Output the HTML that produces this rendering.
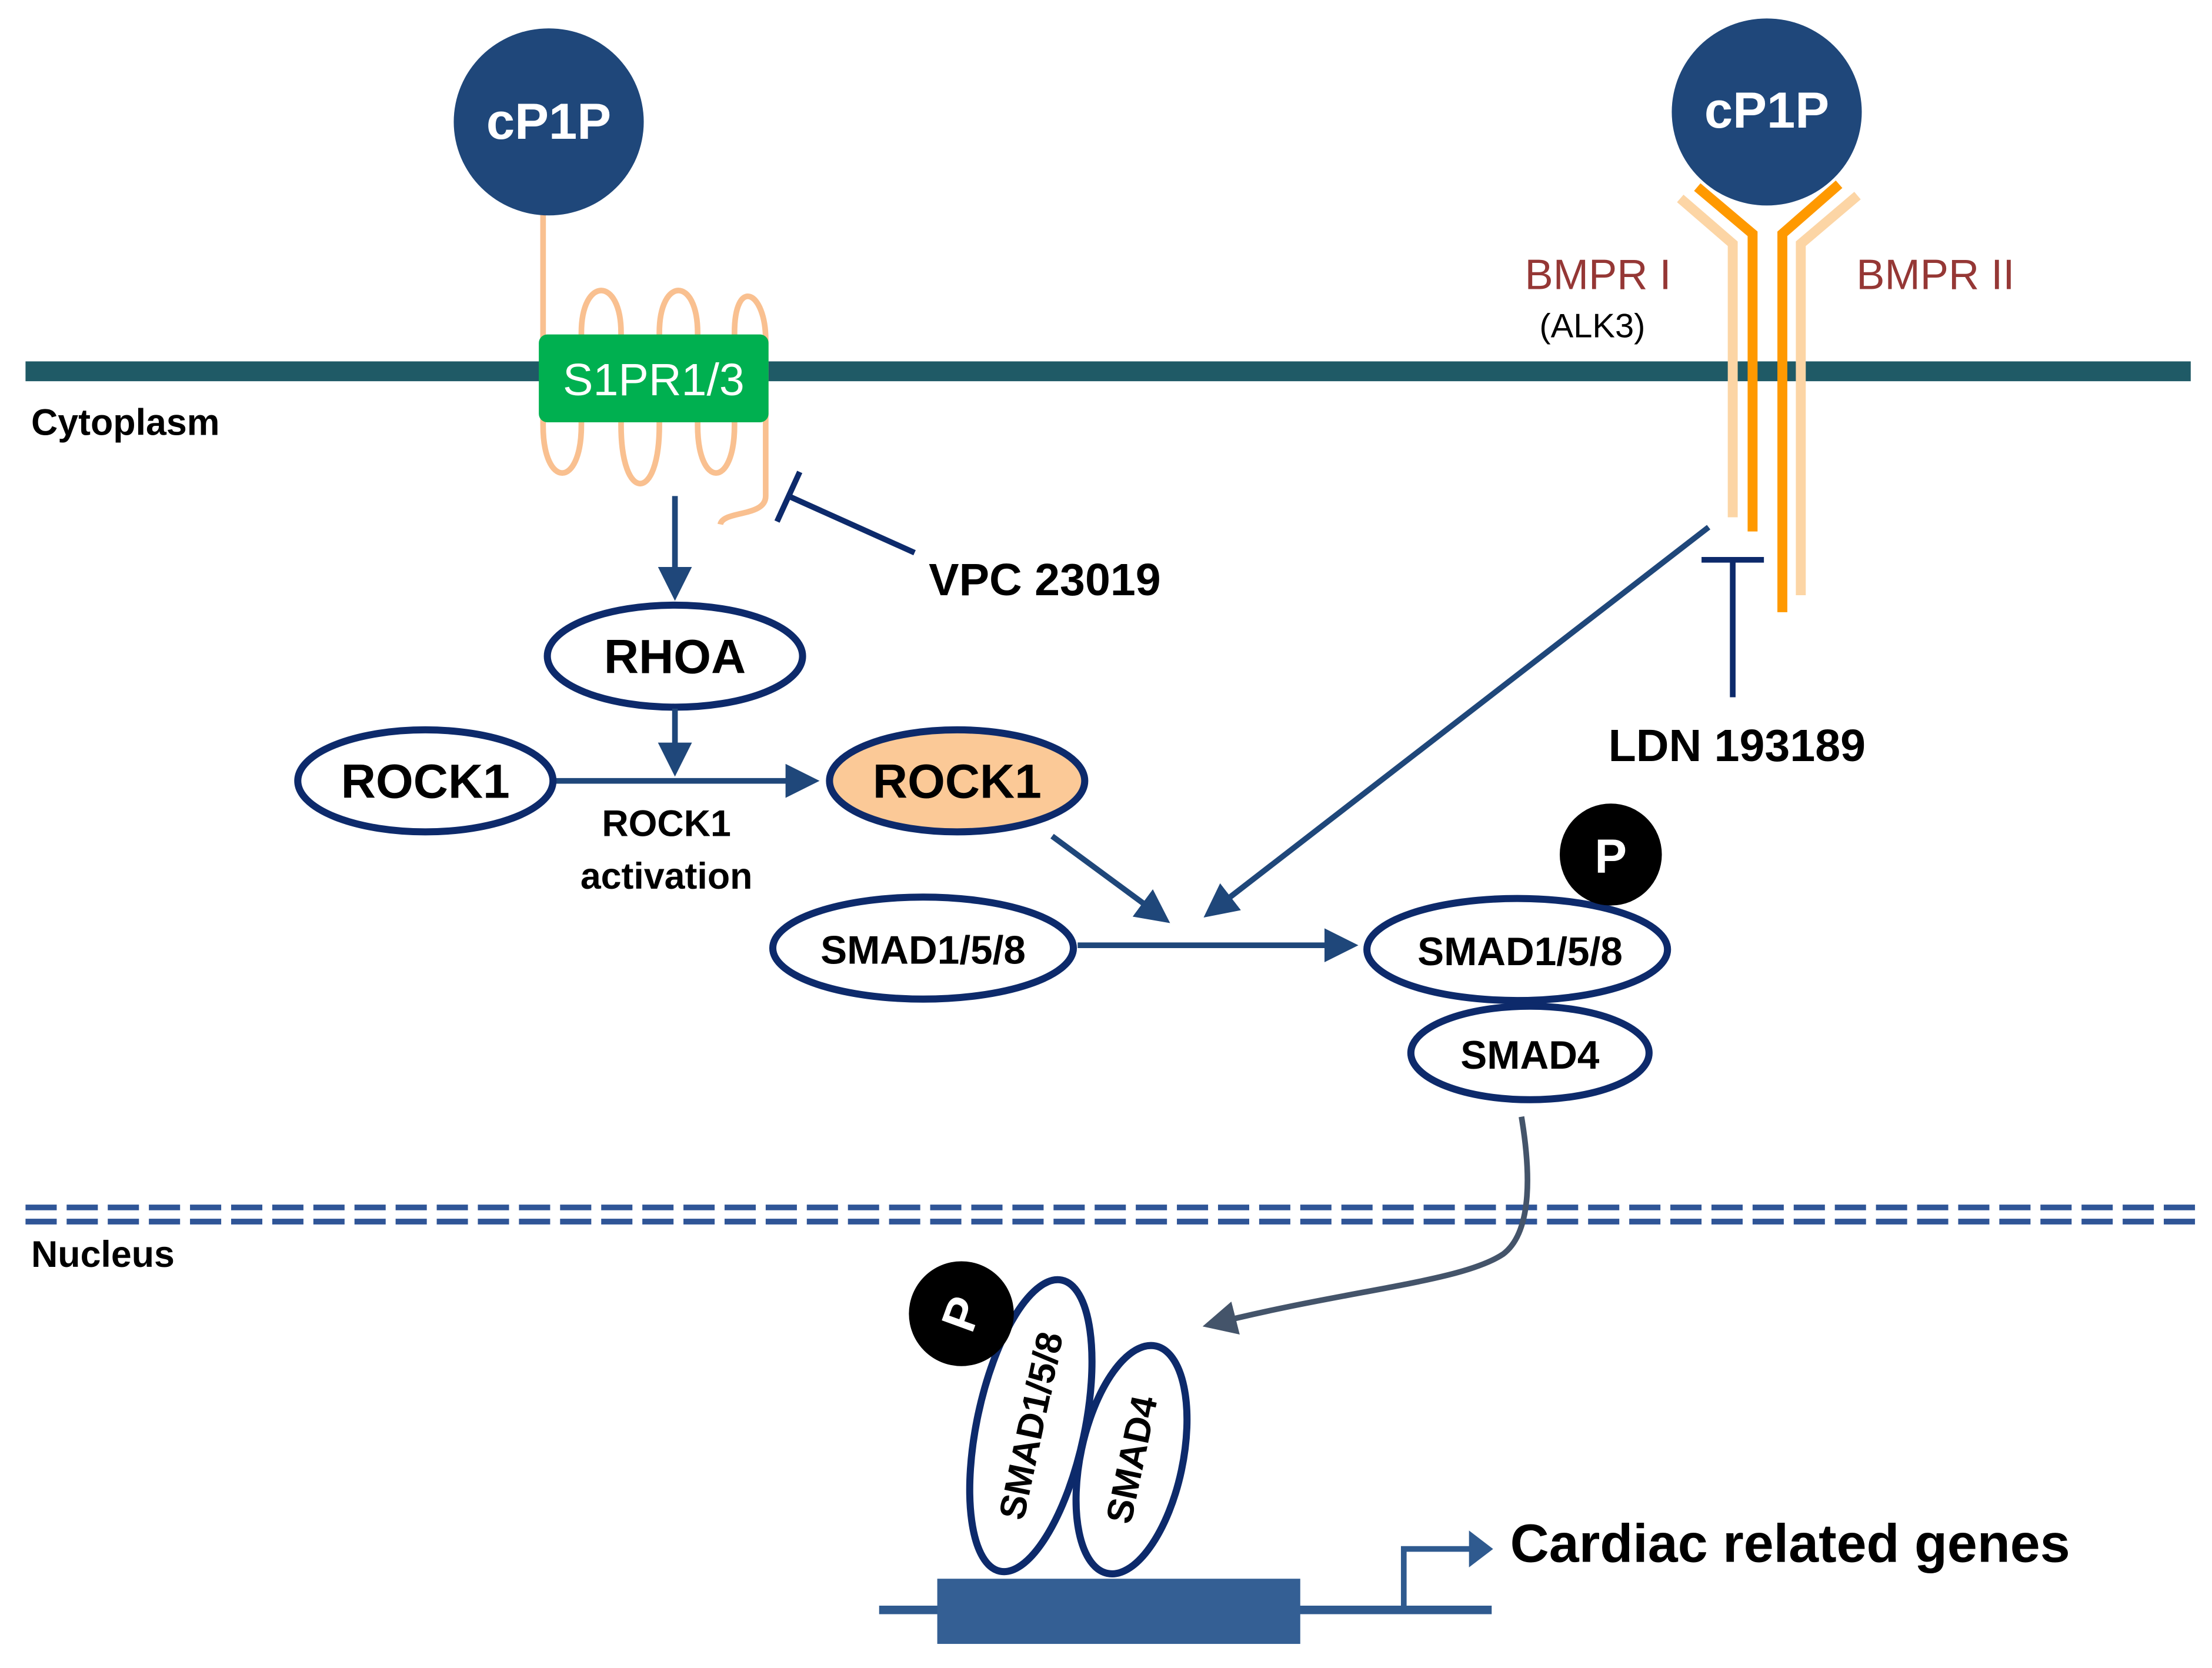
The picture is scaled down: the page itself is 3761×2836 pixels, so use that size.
<!DOCTYPE html>
<html><head><style>html,body{margin:0;padding:0;background:#fff}svg{display:block}</style></head>
<body>
<svg width="3761" height="2836" viewBox="0 0 1560 1177" preserveAspectRatio="none" xmlns="http://www.w3.org/2000/svg" font-family="Liberation Sans, sans-serif">
<defs>
<marker id="a" markerWidth="6" markerHeight="6" refX="5" refY="3" orient="auto" markerUnits="strokeWidth"><path d="M0,0 L6,3 L0,6 z" fill="#1f477a"/></marker>
<marker id="g" markerWidth="6" markerHeight="6" refX="5" refY="3" orient="auto" markerUnits="strokeWidth"><path d="M0,0 L6,3 L0,6 z" fill="#44546a"/></marker>
</defs>
<rect width="1560" height="1177" fill="#fff"/>
<!-- membrane -->
<rect x="18" y="255" width="1527" height="14" fill="#1f5a66"/>
<text x="22" y="307" font-size="26" font-weight="bold">Cytoplasm</text>
<!-- left receptor -->
<path d="M383,150 L383,300 C383,345 410,345 410,300 L410,235 C410,195 438,195 438,235 L438,300 C438,355 465,355 465,300 L465,235 C465,195 492,195 492,235 L492,300 C492,345 518,345 518,300 L518,235 C518,195 540,205 540,240 L540,350 C540,365 510,360 508,370" fill="none" stroke="#f9c090" stroke-width="4"/>
<ellipse cx="387" cy="86" rx="67" ry="66" fill="#1f477a"/>
<text x="387" y="98" font-size="36" font-weight="bold" fill="#fff" text-anchor="middle">cP1P</text>
<rect x="380" y="236" width="162" height="62" rx="6" fill="#00b050"/>
<text x="461" y="279" font-size="32" fill="#fff" text-anchor="middle">S1PR1/3</text>
<line x1="476" y1="350" x2="476" y2="420" stroke="#1f477a" stroke-width="4" marker-end="url(#a)"/>
<line x1="645" y1="390" x2="556" y2="350" stroke="#0d2a6b" stroke-width="4"/>
<line x1="548" y1="368" x2="564" y2="333" stroke="#0d2a6b" stroke-width="4"/>
<text x="655" y="420" font-size="32" font-weight="bold">VPC 23019</text>
<!-- RHOA/ROCK -->
<ellipse cx="476" cy="463" rx="90" ry="36" fill="#fff" stroke="#0d2a6b" stroke-width="5"/>
<text x="476" y="475" font-size="34" font-weight="bold" text-anchor="middle">RHOA</text>
<line x1="476" y1="500" x2="476" y2="544" stroke="#1f477a" stroke-width="4" marker-end="url(#a)"/>
<line x1="392" y1="551" x2="574" y2="551" stroke="#1f477a" stroke-width="4" marker-end="url(#a)"/>
<ellipse cx="300" cy="551" rx="90" ry="36" fill="#fff" stroke="#0d2a6b" stroke-width="5"/>
<text x="300" y="563" font-size="34" font-weight="bold" text-anchor="middle">ROCK1</text>
<ellipse cx="675" cy="551" rx="90" ry="36" fill="#fbc997" stroke="#0d2a6b" stroke-width="5"/>
<text x="675" y="563" font-size="34" font-weight="bold" text-anchor="middle">ROCK1</text>
<text x="470" y="590" font-size="26" font-weight="bold" text-anchor="middle">ROCK1</text>
<text x="470" y="627" font-size="26" font-weight="bold" text-anchor="middle">activation</text>
<line x1="742" y1="590" x2="822" y2="649" stroke="#1f477a" stroke-width="4" marker-end="url(#a)"/>
<line x1="1205" y1="372" x2="852" y2="645" stroke="#1f477a" stroke-width="4" marker-end="url(#a)"/>
<!-- BMPR -->
<path d="M1185,140 L1222,172 L1222,365" fill="none" stroke="#fcd5a5" stroke-width="7"/>
<path d="M1197,132 L1236,165 L1236,375" fill="none" stroke="#ff9900" stroke-width="7"/>
<path d="M1310,138 L1270,172 L1270,420" fill="none" stroke="#fcd5a5" stroke-width="7"/>
<path d="M1297,130 L1257,165 L1257,432" fill="none" stroke="#ff9900" stroke-width="7"/>
<ellipse cx="1246" cy="79" rx="67" ry="66" fill="#1f477a"/>
<text x="1246" y="90" font-size="36" font-weight="bold" fill="#fff" text-anchor="middle">cP1P</text>
<text x="1127" y="204" font-size="30" fill="#953735" text-anchor="middle">BMPR I</text>
<text x="1123" y="238" font-size="24" text-anchor="middle">(ALK3)</text>
<text x="1365" y="204" font-size="30" fill="#953735" text-anchor="middle">BMPR II</text>
<line x1="1222" y1="492" x2="1222" y2="395" stroke="#0d2a6b" stroke-width="4"/>
<line x1="1200" y1="395" x2="1244" y2="395" stroke="#0d2a6b" stroke-width="4"/>
<text x="1225" y="537" font-size="32" font-weight="bold" text-anchor="middle">LDN 193189</text>
<!-- SMADs -->
<ellipse cx="651" cy="669" rx="106" ry="36" fill="#fff" stroke="#0d2a6b" stroke-width="5"/>
<text x="651" y="680" font-size="28" font-weight="bold" text-anchor="middle">SMAD1/5/8</text>
<line x1="760" y1="667" x2="954" y2="667" stroke="#1f477a" stroke-width="4" marker-end="url(#a)"/>
<ellipse cx="1070" cy="670" rx="106" ry="36" fill="#fff" stroke="#0d2a6b" stroke-width="5"/>
<text x="1072" y="681" font-size="28" font-weight="bold" text-anchor="middle">SMAD1/5/8</text>
<circle cx="1136" cy="603" r="36" fill="#000"/>
<text x="1136" y="616" font-size="34" font-weight="bold" fill="#fff" text-anchor="middle">P</text>
<ellipse cx="1079" cy="743" rx="84" ry="33" fill="#fff" stroke="#0d2a6b" stroke-width="5"/>
<text x="1079" y="754" font-size="28" font-weight="bold" text-anchor="middle">SMAD4</text>
<!-- nucleus boundary -->
<line x1="18" y1="852" x2="1548" y2="852" stroke="#2f5597" stroke-width="4" stroke-dasharray="22,7"/>
<line x1="18" y1="862" x2="1548" y2="862" stroke="#2f5597" stroke-width="4" stroke-dasharray="22,7"/>
<text x="22" y="894" font-size="26" font-weight="bold">Nucleus</text>
<path d="M1073,788 C1080,830 1080,870 1060,885 C1030,905 950,910 852,935" fill="none" stroke="#44546a" stroke-width="4" marker-end="url(#g)"/>
<!-- tilted smads -->
<g transform="translate(727,1006) rotate(12)">
<ellipse cx="0" cy="0" rx="38" ry="105" fill="#fff" stroke="#0d2a6b" stroke-width="5"/>
<text x="0" y="9" font-size="26" font-weight="bold" text-anchor="middle" transform="rotate(-90)">SMAD1/5/8</text>
</g>
<g transform="translate(798,1030) rotate(12)">
<ellipse cx="0" cy="0" rx="36" ry="82" fill="#fff" stroke="#0d2a6b" stroke-width="5"/>
<text x="0" y="9" font-size="26" font-weight="bold" text-anchor="middle" transform="rotate(-90)">SMAD4</text>
</g>
<circle cx="678" cy="927" r="37" fill="#000"/>
<text x="678" y="927" font-size="34" font-weight="bold" fill="#fff" text-anchor="middle" transform="rotate(-70 678 927) translate(0,12)">P</text>
<!-- DNA -->
<line x1="620" y1="1136" x2="1052" y2="1136" stroke="#2f5a8f" stroke-width="6"/>
<rect x="661" y="1114" width="256" height="46" fill="#345f94"/>
<path d="M990,1136 L990,1093 L1040,1093" fill="none" stroke="#2f5a8f" stroke-width="4"/>
<path d="M1036,1080 L1053,1093 L1036,1106 z" fill="#2f5a8f"/>
<text x="1065" y="1102" font-size="38" font-weight="bold">Cardiac related genes</text>
</svg>
</body></html>
